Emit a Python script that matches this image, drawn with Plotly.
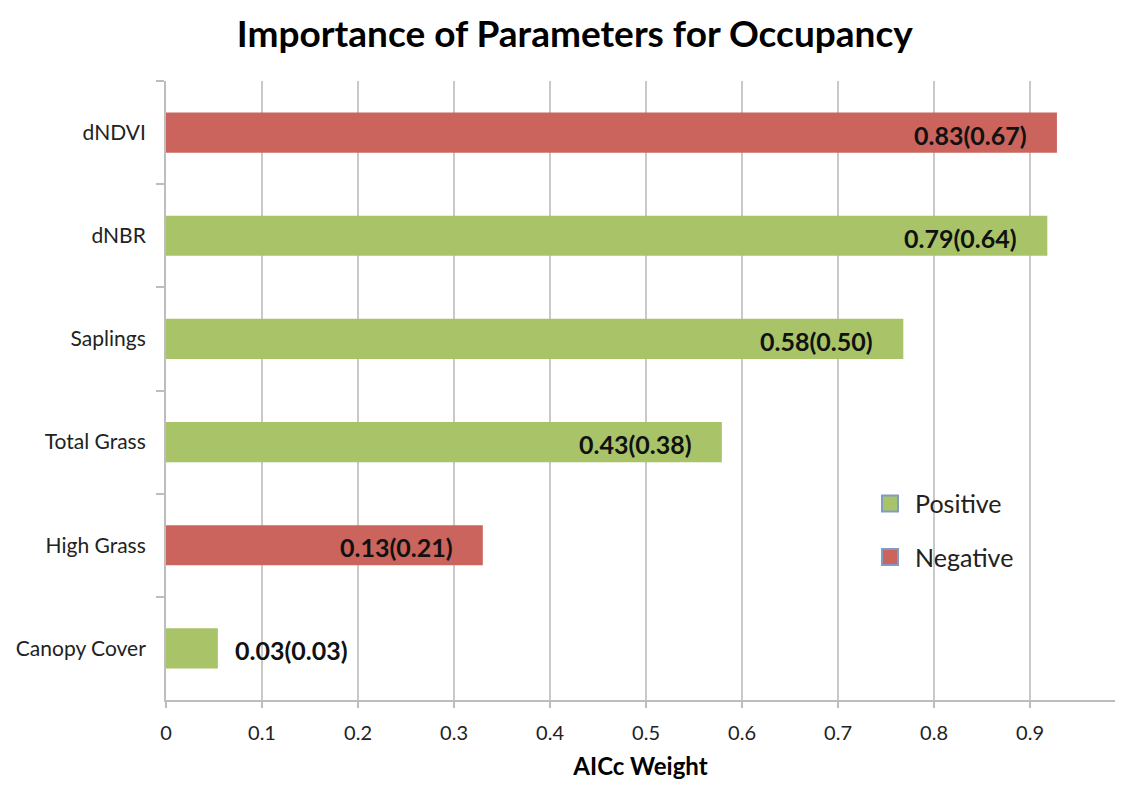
import plotly.graph_objects as go

# Data (top to bottom as displayed)
categories = ["dNDVI", "dNBR", "Saplings", "Total Grass", "High Grass", "Canopy Cover"]
weights = [0.928, 0.918, 0.768, 0.579, 0.330, 0.054]
signs = ["Negative", "Positive", "Positive", "Positive", "Negative", "Positive"]
labels = ["0.83(0.67)", "0.79(0.64)", "0.58(0.50)", "0.43(0.38)", "0.13(0.21)", "0.03(0.03)"]
x_ticks = [0, 0.1, 0.2, 0.3, 0.4, 0.5, 0.6, 0.7, 0.8, 0.9, 1]
x_tick_text = ["0", "0.1", "0.2", "0.3", "0.4", "0.5", "0.6", "0.7", "0.8", "0.9", "1"]

GREEN = "#A9C468"
RED = "#CA645D"
colors = {"Positive": GREEN, "Negative": RED}
FONT = "Lato, 'Open Sans', sans-serif"

fig = go.Figure()

for grp in ["Positive", "Negative"]:
    ys = [c for c, s in zip(categories, signs) if s == grp]
    xs = [w for w, s in zip(weights, signs) if s == grp]
    fig.add_trace(go.Bar(
        x=xs, y=ys, orientation="h",
        marker=dict(color=colors[grp], line=dict(width=0)),
        width=0.39, showlegend=False, hoverinfo="x+y",
    ))

# legend-only entries
for grp in ["Positive", "Negative"]:
    fig.add_trace(go.Scatter(
        x=[None], y=[None], mode="markers", name=grp, legendgroup=grp,
        marker=dict(symbol="square", size=16, color=colors[grp],
                    line=dict(color="#7F9CC8", width=2)),
    ))

annotations = []
for c, w, lab in zip(categories, weights, labels):
    if w > 0.2:
        annotations.append(dict(x=w, y=c, xref="x", yref="y", text="<b>%s</b>" % lab,
                                showarrow=False, xanchor="right", xshift=-28, yshift=-2,
                                font=dict(size=25, color="#111111", family=FONT)))
    else:
        annotations.append(dict(x=w, y=c, xref="x", yref="y", text="<b>%s</b>" % lab,
                                showarrow=False, xanchor="left", xshift=15, yshift=-2,
                                font=dict(size=25, color="#111111", family=FONT)))

fig.update_layout(
    width=1107, height=772,
    margin=dict(l=158, r=0, t=73, b=80, autoexpand=False),
    paper_bgcolor="white", plot_bgcolor="white",
    barmode="overlay",
    font=dict(family=FONT, color="#222222"),
    title=dict(text="<b>Importance of Parameters for Occupancy</b>",
               x=0.512, xanchor="center", y=0.966, yanchor="middle",
               font=dict(size=37, color="#000000", family=FONT)),
    xaxis=dict(range=[0, 0.9885], tickvals=x_ticks, ticktext=x_tick_text,
               showgrid=True, gridcolor="#C9C9C9", gridwidth=2,
               showline=True, linecolor="#BDBDBD", linewidth=2,
               ticks="outside", ticklen=6, tickcolor="#BDBDBD", tickwidth=2,
               tickfont=dict(size=20, color="#222222"), ticklabelstandoff=8,
               title=dict(text="<b>AICc Weight</b>", font=dict(size=24, color="#000000"), standoff=18),
               zeroline=False, fixedrange=True, automargin=False),
    yaxis=dict(categoryorder="array", categoryarray=categories, autorange="reversed",
               showline=True, linecolor="#BDBDBD", linewidth=2,
               ticks="outside", ticklen=8, tickcolor="#BDBDBD", tickwidth=2,
               tickson="boundaries", showgrid=False,
               tickfont=dict(size=21, color="#222222"), ticklabelstandoff=14,
               fixedrange=True, automargin=False),
    legend=dict(x=0.7366, y=0.354, xanchor="left", yanchor="top",
                font=dict(size=25, color="#222222"),
                traceorder="grouped", tracegroupgap=18, itemwidth=40,
                bgcolor="rgba(0,0,0,0)"),
    annotations=annotations,
)

fig.write_html("out.html")
